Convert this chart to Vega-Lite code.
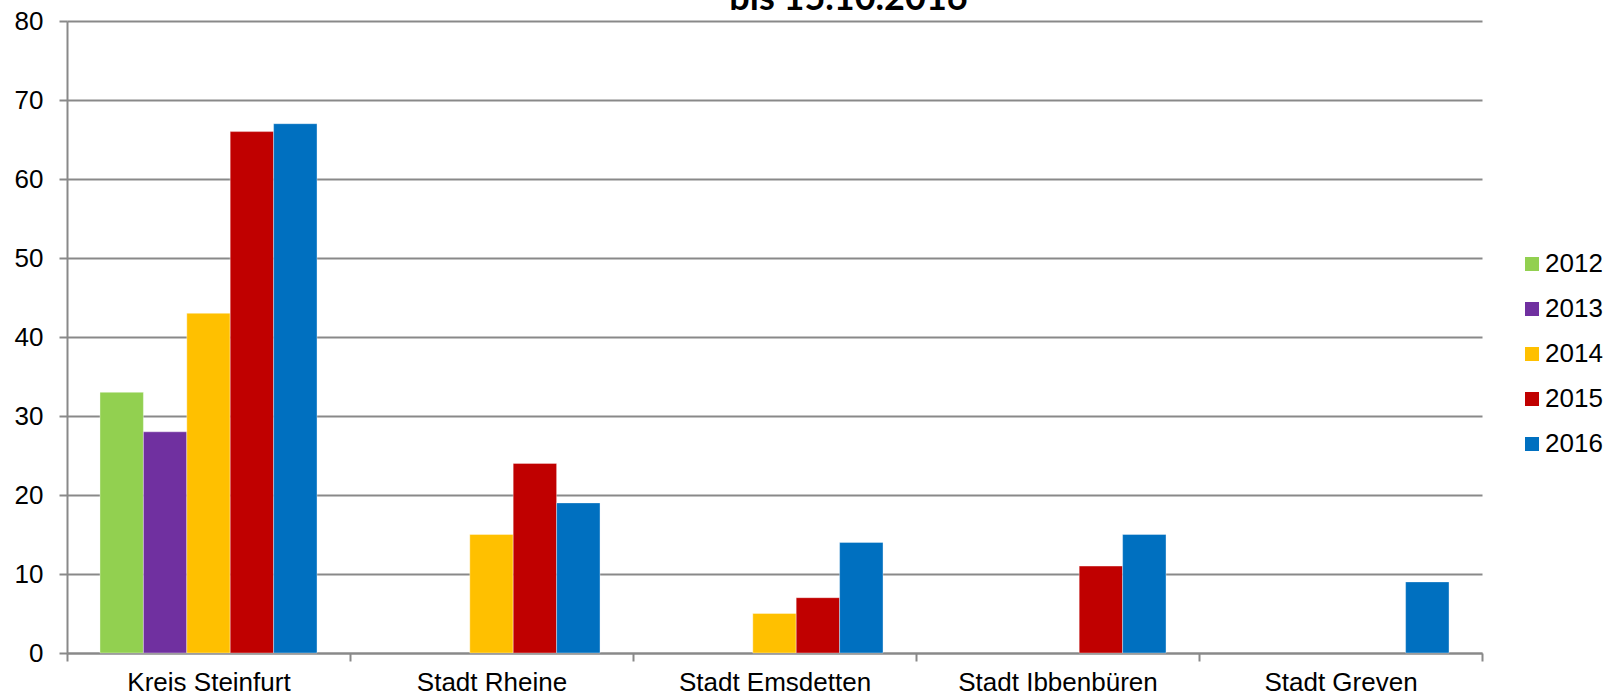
{
  "$schema": "https://vega.github.io/schema/vega-lite/v6.json",
  "autosize": {"type": "none"},
  "width": 1415,
  "height": 632,
  "padding": {"left": 67, "top": 21, "right": 125, "bottom": 44},
  "background": "white",
  "title": {
    "text": "bis 15.10.2016",
    "font": "Lato",
    "fontWeight": "bold",
    "fontSize": 36,
    "color": "#000000",
    "anchor": "middle",
    "frame": "group",
    "baseline": "alphabetic",
    "offset": 0,
    "dx": 74,
    "dy": 38
  },
  "data": {
    "values": [
      {"region": "Kreis Steinfurt", "jahr": "2012", "anzahl": 33},
      {"region": "Kreis Steinfurt", "jahr": "2013", "anzahl": 28},
      {"region": "Kreis Steinfurt", "jahr": "2014", "anzahl": 43},
      {"region": "Kreis Steinfurt", "jahr": "2015", "anzahl": 66},
      {"region": "Kreis Steinfurt", "jahr": "2016", "anzahl": 67},
      {"region": "Stadt Rheine", "jahr": "2014", "anzahl": 15},
      {"region": "Stadt Rheine", "jahr": "2015", "anzahl": 24},
      {"region": "Stadt Rheine", "jahr": "2016", "anzahl": 19},
      {"region": "Stadt Emsdetten", "jahr": "2014", "anzahl": 5},
      {"region": "Stadt Emsdetten", "jahr": "2015", "anzahl": 7},
      {"region": "Stadt Emsdetten", "jahr": "2016", "anzahl": 14},
      {"region": "Stadt Ibbenbüren", "jahr": "2015", "anzahl": 11},
      {"region": "Stadt Ibbenbüren", "jahr": "2016", "anzahl": 15},
      {"region": "Stadt Greven", "jahr": "2016", "anzahl": 9}
    ]
  },
  "mark": {"type": "bar", "stroke": "white", "strokeWidth": 0.6, "strokeOpacity": 0.6},
  "encoding": {
    "x": {
      "field": "region",
      "type": "nominal",
      "sort": ["Kreis Steinfurt", "Stadt Rheine", "Stadt Emsdetten", "Stadt Ibbenbüren", "Stadt Greven"],
      "scale": {"paddingInner": 0, "paddingOuter": 0},
      "axis": {
        "title": null,
        "labelAngle": 0,
        "labelFont": "Liberation Sans",
        "labelFontSize": 26,
        "labelColor": "#000000",
        "labelLimit": 400,
        "labelPadding": 8,
        "tickBand": "extent",
        "tickSize": 8,
        "tickColor": "#898989",
        "tickWidth": 2,
        "domainColor": "#898989",
        "domainWidth": 2,
        "grid": false
      }
    },
    "xOffset": {
      "field": "jahr",
      "type": "nominal",
      "scale": {"domain": ["2012", "2013", "2014", "2015", "2016"], "paddingInner": 0, "paddingOuter": 0.76}
    },
    "y": {
      "field": "anzahl",
      "type": "quantitative",
      "scale": {"domain": [0, 80], "nice": false},
      "axis": {
        "title": null,
        "values": [0, 10, 20, 30, 40, 50, 60, 70, 80],
        "labelFont": "Liberation Sans",
        "labelFontSize": 26,
        "labelColor": "#000000",
        "labelPadding": 16,
        "tickSize": 8,
        "tickColor": "#898989",
        "tickWidth": 2,
        "domainColor": "#898989",
        "domainWidth": 2,
        "gridColor": "#898989",
        "gridWidth": 2
      }
    },
    "color": {
      "field": "jahr",
      "type": "nominal",
      "scale": {
        "domain": ["2012", "2013", "2014", "2015", "2016"],
        "range": ["#92D050", "#7030A0", "#FFC000", "#C00000", "#0070C0"]
      },
      "legend": {
        "title": null,
        "orient": "none",
        "legendX": 1452,
        "legendY": 230,
        "padding": 0,
        "symbolType": "square",
        "symbolSize": 196,
        "symbolStrokeWidth": 0,
        "labelFont": "Liberation Sans",
        "labelFontSize": 26,
        "labelColor": "#000000",
        "labelOffset": 0,
        "labelLimit": 200,
        "rowPadding": 19
      }
    }
  },
  "config": {"view": {"stroke": null}}
}
